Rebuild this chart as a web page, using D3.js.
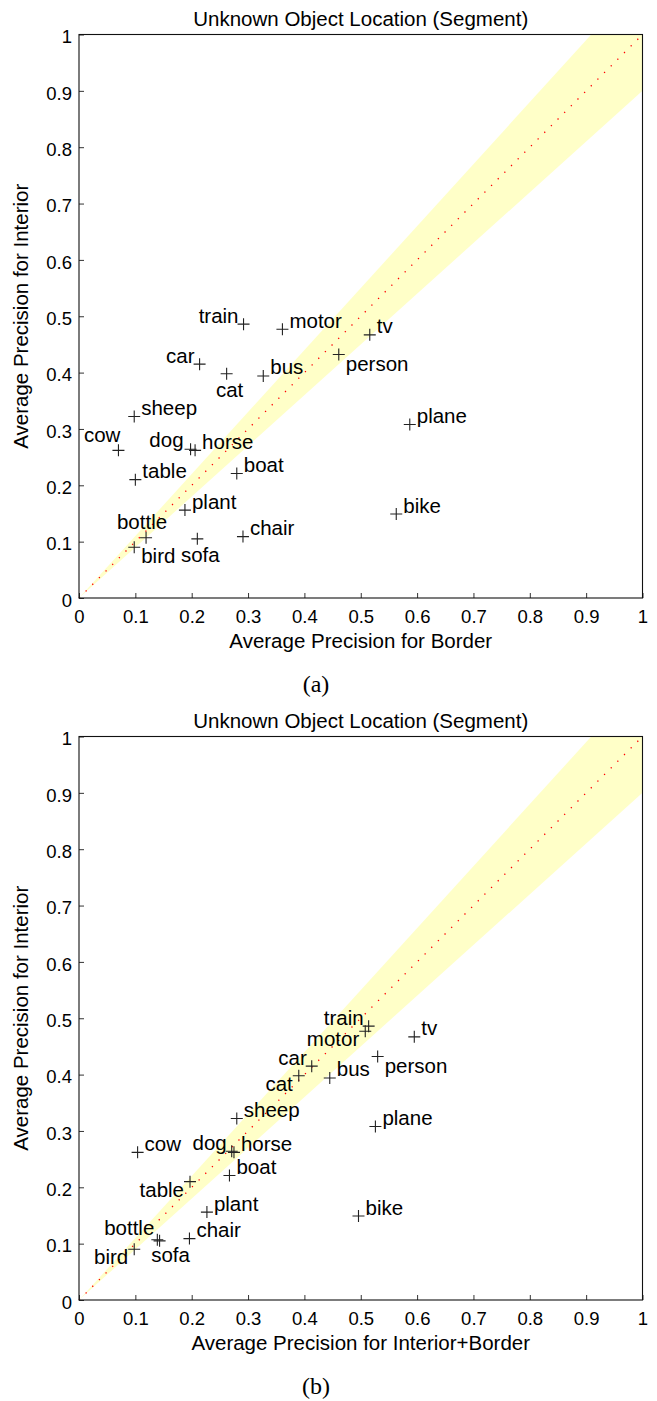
<!DOCTYPE html>
<html>
<head>
<meta charset="utf-8">
<script src="https://cdn.jsdelivr.net/npm/d3@7"></script>
<style>
  body { margin: 0; background: #fff; }
  svg { display: block; }
  text { font-family: "Liberation Sans", Arial, Helvetica, sans-serif; fill: #000; }
</style>
</head>
<body>
<script>
// VOC categories (same order in every array)
var categories = ["plane", "bike", "bird", "boat", "bottle", "bus", "car", "cat", "chair", "cow",
                  "table", "dog", "horse", "motor", "person", "plant", "sheep", "sofa", "train", "tv"];

// y: AP for interior (shared by both panels)
var interiorAP = [0.308, 0.149, 0.090, 0.221, 0.107, 0.394, 0.415, 0.398, 0.109, 0.262,
                  0.210, 0.264, 0.262, 0.477, 0.432, 0.156, 0.322, 0.105, 0.486, 0.467];
// x of panel (a): AP for border
var borderAP = [0.587, 0.563, 0.098, 0.280, 0.119, 0.327, 0.214, 0.262, 0.291, 0.070,
                0.100, 0.198, 0.206, 0.361, 0.461, 0.188, 0.098, 0.210, 0.292, 0.516];
// x of panel (b): AP for interior+border
var combinedAP = [0.526, 0.496, 0.098, 0.267, 0.139, 0.445, 0.413, 0.390, 0.196, 0.104,
                  0.197, 0.271, 0.275, 0.508, 0.530, 0.227, 0.280, 0.143, 0.514, 0.595];

var tickVals = [0, 0.1, 0.2, 0.3, 0.4, 0.5, 0.6, 0.7, 0.8, 0.9, 1];
var bandRatio = [0.9, 1.1];   // shaded region between y = 0.9x and y = 1.1x

var titleText = "Unknown Object Location (Segment)";
var yTitle = "Average Precision for Interior";

// label placement codes per point (layout only)
var placeA = ["r", "r", "br", "r", "t", "r", "l", "b", "r", "tl",
              "r", "l2", "r", "r", "br", "r", "r", "b", "l", "r"];
var placeB = ["r", "r", "bl", "r", "ul", "r", "l", "bl", "r", "r",
              "bl", "l", "r", "bl", "br", "r", "r", "bs", "l", "r"];

// offsets for each code: [dx, dy, anchor]
var placeOffsets = {
  r:  [7, -1.5, "start"],
  l:  [-5, -1, "end"],
  l2: [-7, -2, "end"],
  b:  [3, 23, "middle"],
  bs: [11, 21, "middle"],
  br: [7, 16, "start"],
  bl: [-6, 15, "end"],
  t:  [-4, -9, "middle"],
  tl: [2, -8, "end"],
  ul: [-3, -5, "end"]
};

var w = 657, h = 1401;
var plotLeft = 79, plotRight = 642.5;

var panels = [
  { top: 34.5, bottom: 598, xs: borderAP, place: placeA,
    xTitle: "Average Precision for Border", caption: "(a)" },
  { top: 736.5, bottom: 1300, xs: combinedAP, place: placeB,
    xTitle: "Average Precision for Interior+Border", caption: "(b)" }
];

var svg = d3.select("body").append("svg")
  .attr("width", w)
  .attr("height", h);

var fmt = function(d) { return String(+d.toFixed(1)); };

panels.forEach(function(p) {
  var x = d3.scaleLinear().domain([0, 1]).range([plotLeft, plotRight]);
  var y = d3.scaleLinear().domain([0, 1]).range([p.bottom, p.top]);
  var g = svg.append("g");

  // yellow band around the diagonal
  var band = [[0, 0], [1 / bandRatio[1], 1], [1, 1], [1, bandRatio[0]]];
  g.append("path")
    .attr("d", "M" + band.map(function(d) { return x(d[0]) + "," + y(d[1]); }).join("L") + "Z")
    .attr("fill", "#ffffc8");

  // red dotted diagonal
  g.append("line")
    .attr("x1", x(0)).attr("y1", y(0))
    .attr("x2", x(1)).attr("y2", y(1))
    .attr("stroke", "#ff0000")
    .attr("stroke-width", 1.3)
    .attr("stroke-dasharray", "1.3,8.1");

  // axes, ticks pointing inward
  var xAxis = g.append("g")
    .attr("transform", "translate(0," + p.bottom + ")")
    .call(d3.axisBottom(x).tickValues(tickVals).tickFormat(fmt)
      .tickSizeInner(-5).tickSizeOuter(0).tickPadding(12));
  var yAxis = g.append("g")
    .attr("transform", "translate(" + plotLeft + ",0)")
    .call(d3.axisLeft(y).tickValues(tickVals).tickFormat(fmt)
      .tickSizeInner(-5).tickSizeOuter(0).tickPadding(7));

  [xAxis, yAxis].forEach(function(a) {
    a.select(".domain").remove();
    a.selectAll("line").attr("stroke", "#333");
    a.selectAll("text")
      .attr("font-size", 18.5)
      .attr("font-family", "Liberation Sans, Arial, sans-serif")
      .attr("fill", "#000");
  });
  yAxis.selectAll("text").attr("dy", "0.45em");

  // frame
  g.append("rect")
    .attr("x", plotLeft).attr("y", p.top)
    .attr("width", plotRight - plotLeft)
    .attr("height", p.bottom - p.top)
    .attr("fill", "none")
    .attr("stroke", "#111")
    .attr("stroke-width", 1.1);

  // markers
  g.selectAll("path.mark")
    .data(categories)
    .enter().append("path")
    .attr("class", "mark")
    .attr("transform", function(d, i) { return "translate(" + x(p.xs[i]) + "," + y(interiorAP[i]) + ")"; })
    .attr("d", "M-6,0H6M0,-6V6")
    .attr("stroke", "#222")
    .attr("stroke-width", 1.1)
    .attr("fill", "none");

  // point labels
  g.selectAll("text.lab")
    .data(categories)
    .enter().append("text")
    .attr("class", "lab")
    .attr("x", function(d, i) { return x(p.xs[i]) + placeOffsets[p.place[i]][0]; })
    .attr("y", function(d, i) { return y(interiorAP[i]) + placeOffsets[p.place[i]][1]; })
    .attr("text-anchor", function(d, i) { return placeOffsets[p.place[i]][2]; })
    .attr("font-size", 20.5)
    .text(function(d) { return d; });

  // titles
  g.append("text")
    .attr("x", (plotLeft + plotRight) / 2)
    .attr("y", p.top - 8.5)
    .attr("text-anchor", "middle")
    .attr("font-size", 20.5)
    .text(titleText);

  g.append("text")
    .attr("x", (plotLeft + plotRight) / 2)
    .attr("y", p.bottom + 50)
    .attr("text-anchor", "middle")
    .attr("font-size", 20.5)
    .text(p.xTitle);

  g.append("text")
    .attr("transform", "translate(28," + (p.top + p.bottom) / 2 + ") rotate(-90)")
    .attr("text-anchor", "middle")
    .attr("font-size", 20.5)
    .text(yTitle);

  g.append("text")
    .attr("x", 316)
    .attr("y", p.bottom + 94)
    .attr("text-anchor", "middle")
    .attr("font-family", "Liberation Serif, Times New Roman, serif")
    .style("font-family", "'Liberation Serif', 'Times New Roman', serif")
    .attr("font-size", 24)
    .text(p.caption);
});
</script>
</body>
</html>
